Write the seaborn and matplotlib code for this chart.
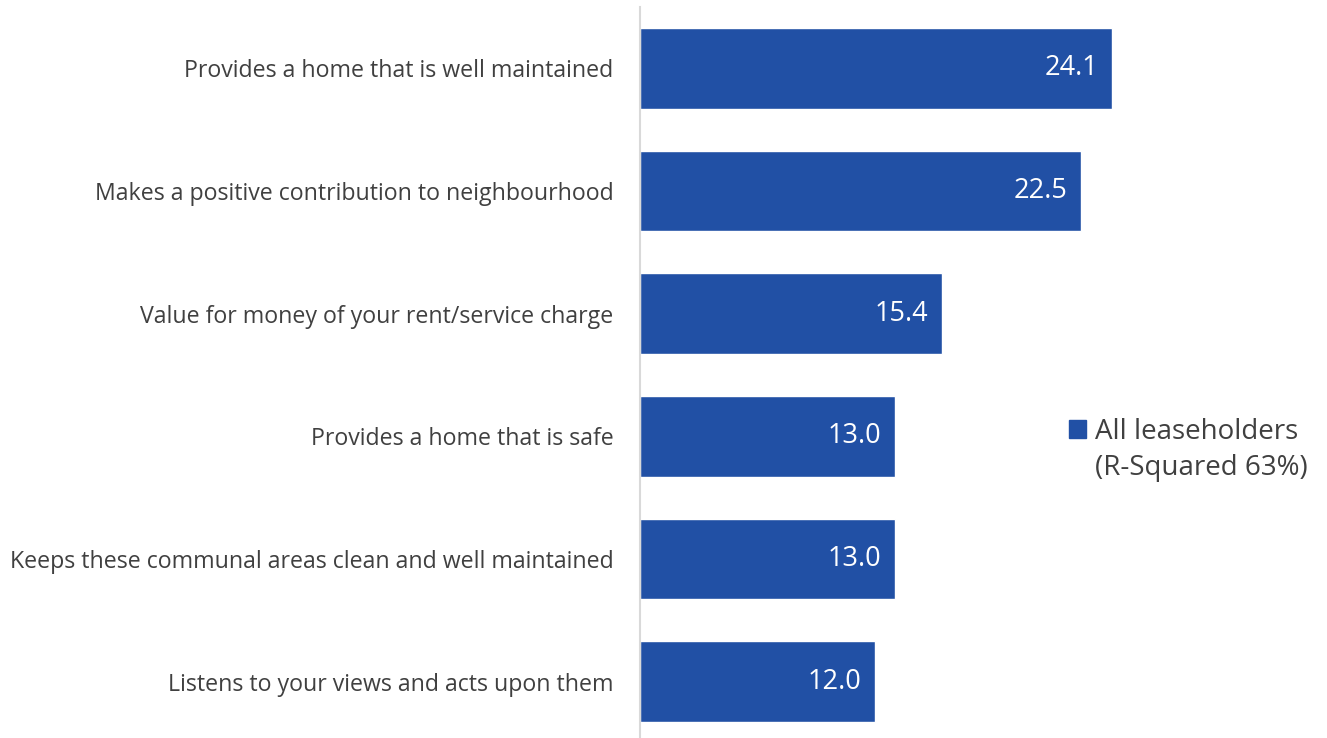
import matplotlib
matplotlib.use("Agg")
import matplotlib.pyplot as plt
from matplotlib.patches import Patch
import seaborn as sns
import pandas as pd

categories = [
    "Provides a home that is well maintained",
    "Makes a positive contribution to neighbourhood",
    "Value for money of your rent/service charge",
    "Provides a home that is safe",
    "Keeps these communal areas clean and well maintained",
    "Listens to your views and acts upon them",
]
values = [24.1, 22.5, 15.4, 13.0, 13.0, 12.0]
legend_lines = ["All leaseholders", "(R-Squared 63%)"]

df = pd.DataFrame({"driver": categories, "value": values})

sns.set_theme(style="white")
plt.rcParams["font.family"] = ["Open Sans", "DejaVu Sans"]

bar_color = "#2150A5"
text_color = "#404040"

fig = plt.figure(figsize=(13.27, 7.38), dpi=100)
ax = fig.add_axes([640 / 1327, -5 / 738, 490 / 1327, 736 / 738])

sns.barplot(data=df, x="value", y="driver", orient="h", color=bar_color,
            width=0.66, saturation=1, ax=ax)

ax.set_xlim(0, 25)
ax.set_ylim(5.5, -0.5)
ax.set_xlabel("")
ax.set_ylabel("")
ax.set_xticks([])
ax.tick_params(axis="y", length=0, pad=19, labelsize=16.7, labelcolor=text_color)

for side in ["top", "right", "bottom"]:
    ax.spines[side].set_visible(False)
ax.spines["left"].set_color("#d9d9d9")
ax.spines["left"].set_linewidth(1.5)

for container in ax.containers:
    ax.bar_label(container, labels=[f"{v:.1f}" for v in values],
                 padding=-10, color="white", fontsize=19.5)
    for lbl in ax.texts:
        lbl.set_ha("right")

# legend: coloured square on the first line, continuation line without a marker
handles = [Patch(facecolor=bar_color, edgecolor=bar_color),
           Patch(facecolor="none", edgecolor="none")]
fig.legend(handles, legend_lines, loc="upper left",
           bbox_to_anchor=(1069 / 1327, 1 - 418 / 738), frameon=False,
           borderpad=0, borderaxespad=0,
           fontsize=20, labelcolor=text_color, handlelength=0.62,
           handleheight=0.62, handletextpad=0.3, labelspacing=0.3)

fig.savefig("out.png", dpi=100)
